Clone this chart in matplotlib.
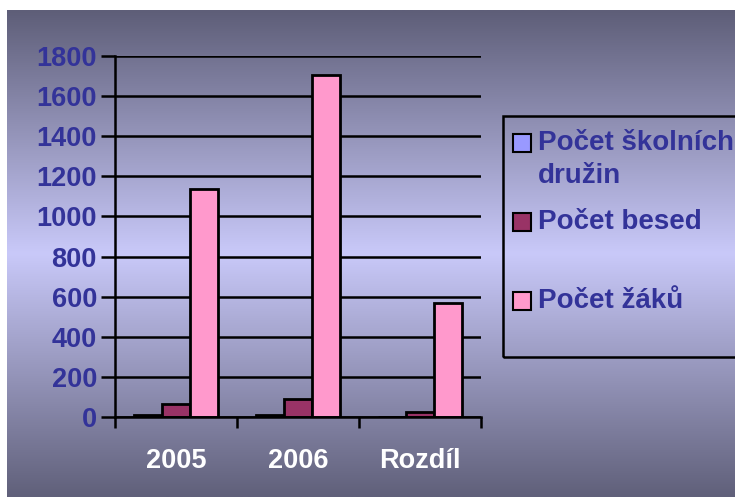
import matplotlib.pyplot as plt
import numpy as np
from matplotlib.colors import LinearSegmentedColormap
from matplotlib.patches import Rectangle

# ===== Dados =====
kategorie = ['2005', '2006', 'Rozdíl']
serie = ['Počet školních\ndružin', 'Počet besed', 'Počet žáků']
druziny = [10, 10, 0]
besedy = [65, 90, 25]
zaci = [1135, 1705, 570]
hodnoty = [druziny, besedy, zaci]
barvy = ['#9999ff', '#993366', '#ff99cc']
osa_y = [0, 200, 400, 600, 800, 1000, 1200, 1400, 1600, 1800]

W, H = 735, 497
FS = 19.5
fig = plt.figure(figsize=(W / 100, H / 100), dpi=100)
fig.patch.set_facecolor('white')

# ===== Pozadí s přechodem =====
bg = fig.add_axes([7 / W, 0, 1 - 7 / W, 1 - 10 / H], zorder=0)
cmap = LinearSegmentedColormap.from_list(
    'bg', [(0, '#5e5e78'), (0.5, '#c9c9f9'), (1, '#60607a')])
grad = np.linspace(0, 1, 256).reshape(-1, 1)
bg.imshow(grad, aspect='auto', cmap=cmap, extent=[0, 1, 0, 1], origin='upper')
bg.axis('off')

# ===== Graf =====
ax = fig.add_axes([115 / W, 1 - 417 / H, (481 - 115) / W, (417 - 56) / H], zorder=1)
ax.patch.set_alpha(0)
x = np.arange(len(kategorie)) + 0.5
sirka = 0.23
for i, (vals, c) in enumerate(zip(hodnoty, barvy)):
    ax.bar(x + (i - 1) * sirka, vals, sirka, color=c, edgecolor='black',
           linewidth=2, zorder=3)

ax.set_xlim(0, 3)
ax.set_ylim(0, 1800)
ax.set_yticks(osa_y)
ax.set_yticklabels([str(v) for v in osa_y], fontsize=FS, fontweight='bold',
                   color='#333399', family='Liberation Sans')
ax.yaxis.grid(True, color='black', linewidth=1.8, zorder=1)
ax.set_xticks([0, 1, 2, 3])
ax.set_xticklabels([])
ax.set_xticks(x, minor=True)
ax.set_xticklabels(kategorie, minor=True, fontsize=FS, fontweight='bold',
                   color='white', family='Liberation Sans')
ax.tick_params(axis='x', which='minor', length=0, pad=22)
ax.tick_params(axis='x', which='major', length=8, width=1.8, direction='out')
ax.tick_params(axis='y', length=10, width=1.8, direction='out', pad=3)
for s in ['top', 'right']:
    ax.spines[s].set_visible(False)
for s in ['left', 'bottom']:
    ax.spines[s].set_linewidth(1.8)
    ax.spines[s].set_zorder(4)

# ===== Legenda =====
fig.patches.append(Rectangle((503 / W, 1 - 357 / H), (W + 5 - 503) / W, (357 - 116) / H,
                             transform=fig.transFigure, facecolor='none',
                             edgecolor='black', linewidth=1.8, zorder=5))
leg_y = [143, 222, 301]
for nazev, c, yy in zip(serie, barvy, leg_y):
    fig.patches.append(Rectangle((513 / W, 1 - (yy + 9) / H), 18 / W, 18 / H,
                                 transform=fig.transFigure, facecolor=c,
                                 edgecolor='black', linewidth=1.5, zorder=5))
    fig.text(538 / W, 1 - (yy - 13) / H, nazev, fontsize=20, fontweight='bold',
             color='#333399', family='Liberation Sans', va='top', ha='left',
             linespacing=1.35, zorder=6)

fig.savefig('out.png', dpi=100)
